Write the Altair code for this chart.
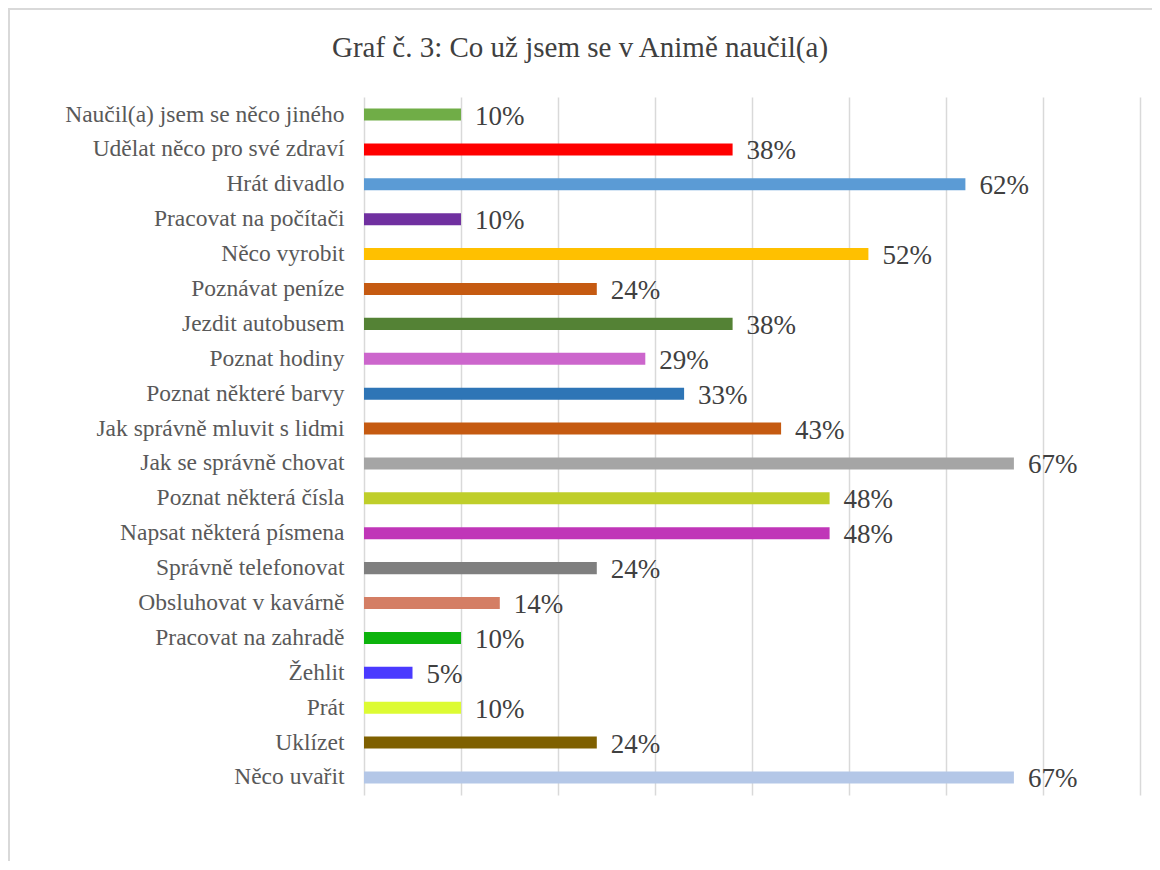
import altair as alt
import pandas as pd

TITLE = "Graf č. 3: Co už jsem se v Animě naučil(a)"
categories = [
    "Naučil(a) jsem se něco jiného",
    "Udělat něco pro své zdraví",
    "Hrát divadlo",
    "Pracovat na počítači",
    "Něco vyrobit",
    "Poznávat peníze",
    "Jezdit autobusem",
    "Poznat hodiny",
    "Poznat některé barvy",
    "Jak správně mluvit s lidmi",
    "Jak se správně chovat",
    "Poznat některá čísla",
    "Napsat některá písmena",
    "Správně telefonovat",
    "Obsluhovat v kavárně",
    "Pracovat na zahradě",
    "Žehlit",
    "Prát",
    "Uklízet",
    "Něco uvařit",
]
values = [10, 38, 62, 10, 52, 24, 38, 29, 33, 43, 67, 48, 48, 24, 14, 10, 5, 10, 24, 67]
colors = [
    "#70AD47", "#FF0000", "#5B9BD5", "#7030A0", "#FFC000",
    "#C55A11", "#548235", "#CC66CC", "#2E75B6", "#C55A11",
    "#A5A5A5", "#BFCE2A", "#C036B8", "#7F7F7F", "#D47E64",
    "#0DB30D", "#4A3AFF", "#DDFB33", "#7F6000", "#B4C7E7",
]

df = pd.DataFrame({
    "cat": categories,
    "val": [v / 100 for v in values],
    "label": [f"{v}%" for v in values],
    "color": colors,
})
title_df = pd.DataFrame({"t": [TITLE]})

FONT = "Liberation Serif, Times New Roman, serif"

y = alt.Y("cat:N", sort=categories, title=None,
          scale=alt.Scale(paddingInner=0.655, paddingOuter=0.33),
          axis=alt.Axis(labelFont=FONT, labelFontSize=23.5, labelColor="#595959",
                        labelPadding=20, ticks=False, domain=False, labelLimit=400))
x = alt.X("val:Q", title=None,
          scale=alt.Scale(domain=[0, 0.8], nice=False),
          axis=alt.Axis(values=[i / 10 for i in range(9)], labels=False, ticks=False,
                        domain=False, grid=True, gridColor="#D9D9D9", gridWidth=1.5))

bars = alt.Chart(df).mark_bar().encode(
    x=x, y=y,
    color=alt.Color("color:N", scale=None, legend=None),
)

texts = alt.Chart(df).mark_text(
    align="left", baseline="middle", dx=14, dy=2,
    font=FONT, fontSize=27, color="#404040",
).encode(
    x=alt.X("val:Q"), y=alt.Y("cat:N", sort=categories), text="label:N",
)

title_text = alt.Chart(title_df).mark_text(
    align="center", baseline="alphabetic",
    font=FONT, fontSize=29, color="#404040",
).encode(
    x=alt.value(216), y=alt.value(-40), text="t:N",
)

border_top = alt.Chart(title_df).mark_rule(color="#D9D9D9", strokeWidth=2).encode(
    x=alt.value(-356), x2=alt.value(800), y=alt.value(-88))
border_left = alt.Chart(title_df).mark_rule(color="#D9D9D9", strokeWidth=2).encode(
    x=alt.value(-355), y=alt.value(-88), y2=alt.value(800))

chart = alt.layer(bars, texts, title_text, border_top, border_left).properties(
    width=776, height=698,
    padding={"left": 356, "top": 89, "right": 12, "bottom": 66},
    autosize=alt.AutoSizeParams(type="none"),
    background="white",
).configure_view(stroke=None, strokeWidth=0)

chart.save("out.html", embed_options={"renderer": "svg", "actions": False})
